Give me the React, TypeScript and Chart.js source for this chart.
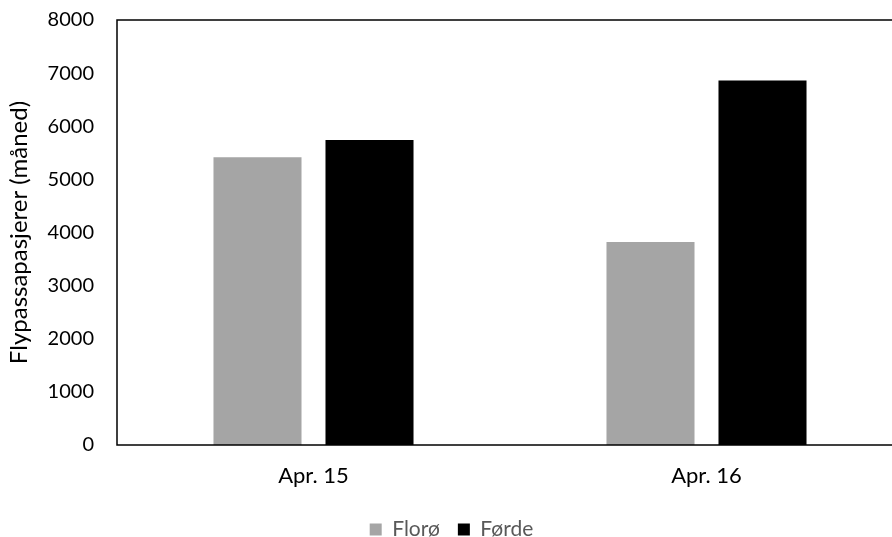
import React, { useEffect, useRef } from "react";
import { Chart, registerables } from "chart.js";
Chart.register(...registerables);

const categories = ["Apr. 15", "Apr. 16"];
const seriesNames = ["Florø", "Førde"];
const floroValues = [5415, 3820];
const fordeValues = [5740, 6860];
const seriesColors = ["#A5A5A5", "#000000"];
const yMin = 0;
const yMax = 8000;
const yStep = 1000;
const yAxisTitle = "Flypassapasjerer (måned)";

const CANVAS_W = 912;
const CANVAS_H = 550;
const FONT = "Lato, 'Open Sans', sans-serif";

const framePlugin = {
  id: "frame",
  afterDatasetsDraw(chart: any) {
    const { ctx, chartArea } = chart;
    ctx.save();
    ctx.strokeStyle = "#000000";
    ctx.lineWidth = 1.5;
    ctx.strokeRect(chartArea.left, chartArea.top, chartArea.right - chartArea.left, chartArea.bottom - chartArea.top);
    ctx.restore();
  },
};

export default function App() {
  const ref = useRef<HTMLCanvasElement | null>(null);
  useEffect(() => {
    if (!ref.current) return;
    const chart = new Chart(ref.current, {
      type: "bar",
      data: {
        labels: categories,
        datasets: [
          { label: seriesNames[0], data: floroValues, backgroundColor: seriesColors[0] },
          { label: seriesNames[1], data: fordeValues, backgroundColor: seriesColors[1] },
        ],
      },
      options: {
        responsive: false,
        animation: false,
        devicePixelRatio: 1,
        layout: { padding: { top: 20, right: 9, left: 0, bottom: 0 } },
        datasets: { bar: { categoryPercentage: 0.57, barPercentage: 0.786 } },
        scales: {
          x: {
            grid: { display: false, drawTicks: false },
            border: { display: false },
            ticks: { color: "#000", font: { family: FONT, size: 22 }, padding: 18 },
            afterFit: (s: any) => { s.height = 56; },
          },
          y: {
            min: yMin,
            max: yMax,
            grid: { display: false, drawTicks: false },
            border: { display: false },
            ticks: {
              stepSize: yStep,
              color: "#000",
              font: { family: FONT, size: 20 },
              padding: 23,
              callback: (v: any) => String(v),
            },
            title: { display: true, text: yAxisTitle, color: "#000", font: { family: FONT, size: 24 }, padding: { top: 5, bottom: 0 } },
            afterFit: (s: any) => {
              s.width = 117;
              s.paddingTop = 0;
              s.paddingBottom = 0;
            },
          },
        },
        plugins: {
          legend: {
            position: "bottom",
            labels: {
              boxWidth: 12,
              boxHeight: 12,
              padding: 18,
              color: "#595959",
              font: { family: FONT, size: 21 },
            },
          },
          tooltip: { enabled: false },
        },
      },
      plugins: [framePlugin],
    });
    return () => chart.destroy();
  }, []);
  return (
    <div style={{ position: "fixed", left: 0, top: 0, width: 892, height: 537, overflow: "hidden", background: "#fff" }}>
      <canvas ref={ref} width={CANVAS_W} height={CANVAS_H} style={{ width: CANVAS_W, height: CANVAS_H, display: "block" }} />
    </div>
  );
}
